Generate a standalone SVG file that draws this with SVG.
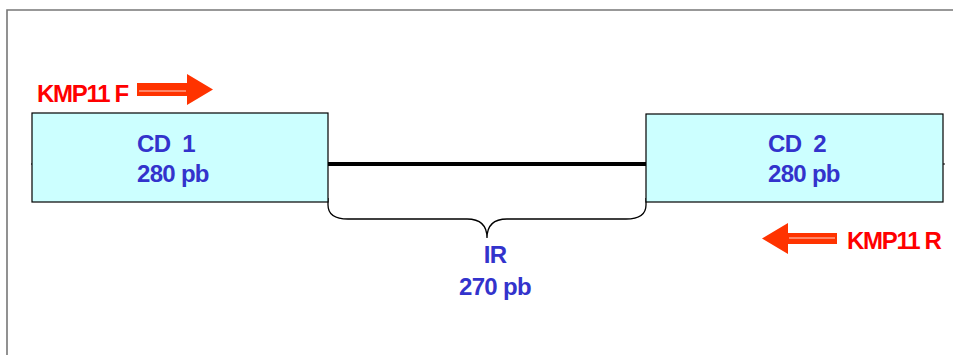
<svg xmlns="http://www.w3.org/2000/svg" width="953" height="355" viewBox="0 0 953 355">
<style>
.box{fill:#CCFFFF;stroke:#000;stroke-width:1.2}
.lbl{font-family:"Liberation Sans",Arial,sans-serif;font-weight:bold;font-size:24px;fill:#3333CC;letter-spacing:-0.7px;white-space:pre}
.mid{text-anchor:middle}
.primer{font-family:"Liberation Sans",Arial,sans-serif;font-weight:bold;font-size:24px;fill:#FF0000;letter-spacing:-1.3px}
.arr{fill:#FF3300}
</style>
<rect x="0" y="0" width="953" height="355" fill="#fff"/>
<g id="frame">
<path d="M7,355 V10 H953" fill="none" stroke="#777" stroke-width="1.6"/>
</g>
<g id="connectors">
<line x1="31" y1="164" x2="945" y2="164" stroke="#000" stroke-width="1"/>
<line x1="328" y1="164" x2="646" y2="164" stroke="#000" stroke-width="4"/>
<path d="M328,198 V205 Q328,219 348,219 H467 Q487,219 487,238 Q487,219 507,219 H626 Q646,219 646,205 V198" fill="none" stroke="#000" stroke-width="1.3"/>
</g>
<g id="cd1">
<rect class="box" x="32" y="113" width="296" height="89"/>
<text class="lbl" x="137" y="152" xml:space="preserve">CD  1</text>
<text class="lbl" x="137" y="182">280 pb</text>
</g>
<g id="cd2">
<rect class="box" x="646" y="114" width="297" height="88"/>
<text class="lbl" x="768" y="152" xml:space="preserve">CD  2</text>
<text class="lbl" x="768" y="182">280 pb</text>
</g>
<g id="ir">
<text class="lbl mid" x="495" y="263">IR</text>
<text class="lbl mid" x="495" y="295">270 pb</text>
</g>
<g id="kmp11f">
<text class="primer" x="37" y="102">KMP11 F</text>
<path class="arr" d="M137,83 H187 V74 L213,89.5 L187,105 V96 H137 Z"/>
<line x1="139" y1="91" x2="186" y2="91" stroke="#fff" stroke-width="1" opacity="0.8"/>
</g>
<g id="kmp11r">
<text class="primer" x="847" y="249">KMP11 R</text>
<path class="arr" d="M837,233 H788 V223 L762,238.5 L788,254 V244 H837 Z"/>
<line x1="789" y1="238" x2="835" y2="238" stroke="#fff" stroke-width="1" opacity="0.8"/>
</g>
</svg>
